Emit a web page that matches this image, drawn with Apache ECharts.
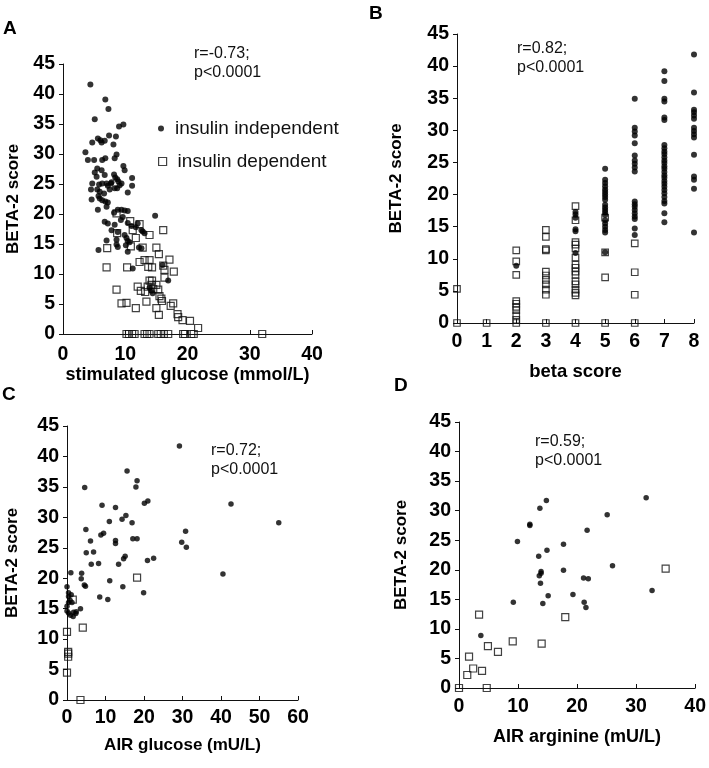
<!DOCTYPE html>
<html>
<head>
<meta charset="utf-8">
<script src="https://cdn.jsdelivr.net/npm/echarts@6/dist/echarts.min.js"></script>
<style>
  body { margin: 0; background: #fff; }
  #chart { width: 709px; height: 768px; }
</style>
</head>
<body>
<div id="chart"></div>
<script>
// ---- data ----
// A: stimulated glucose (mmol/L) vs BETA-2 score
const aIndependent = [
  [4.4,41.6],[6.8,39.1],[7.3,37.5],[5.1,35.8],[9.0,34.6],[9.7,34.9],[7.4,33.1],[8.5,32.9],
  [5.6,32.6],[6.0,32.3],[6.2,31.9],[6.7,32.2],[4.7,31.9],[8.1,31.6],[3.6,30.3],[4.0,29.0],
  [5.0,29.0],[6.3,29.0],[6.8,29.3],[8.3,29.3],[8.6,29.9],[5.5,27.6],[6.2,27.3],[9.7,28.0],
  [9.9,27.3],[5.1,26.9],[5.4,26.2],[6.7,26.5],[8.2,26.6],[8.4,26.1],[8.7,25.8],[8.9,25.4],
  [7.8,25.3],[11.1,26.0],[11.1,24.7],[4.7,25.1],[5.8,24.9],[6.3,25.1],[7.0,25.1],[7.2,24.7],
  [7.7,25.1],[8.7,24.3],[9.4,25.1],[10.4,23.6],[4.5,24.1],[5.5,24.1],[5.9,23.7],[6.6,23.4],
  [7.5,24.1],[8.3,24.3],[9.1,24.8],[4.6,22.4],[5.7,23.0],[5.9,22.6],[6.3,22.3],[6.8,22.1],
  [5.6,20.7],[7.0,21.2],[7.2,21.9],[8.8,20.7],[9.4,20.7],[9.9,20.6],[10.4,20.5],[8.2,20.2],
  [9.3,19.0],[9.6,19.5],[14.8,19.7],[6.7,18.7],[7.2,18.4],[8.3,18.2],[7.8,17.3],[10.4,18.5],
  [11.0,18.0],[11.7,17.8],[12.0,18.4],[12.6,17.3],[13.1,16.8],[12.8,17.1],[8.8,17.0],[9.9,16.5],
  [10.2,16.0],[10.4,15.5],[10.7,15.3],[10.1,14.8],[7.0,15.6],[8.6,15.7],[8.6,14.9],[8.8,14.5],
  [5.7,14.0],[10.4,13.7],[12.2,14.4],[12.6,14.3],[11.2,10.9],[16.0,11.5],[16.9,8.9],[13.9,7.7],
  [14.2,7.2],[14.4,6.8]
];
const aDependent = [
  [8.6,20.1],[10.8,18.8],[12.3,18.3],[11.2,17.3],[8.7,16.8],[16.1,17.3],[13.9,16.5],[11.7,16.0],
  [7.1,14.3],[10.9,14.6],[12.8,14.4],[15.0,14.4],[15.4,13.3],[7.0,11.1],[10.3,11.1],[12.3,12.0],
  [13.1,12.3],[13.9,12.3],[13.7,11.2],[14.3,11.1],[16.1,11.4],[17.1,12.4],[16.3,10.7],[17.8,10.4],
  [16.3,9.4],[13.9,8.9],[14.3,8.9],[15.0,8.2],[14.2,8.2],[12.0,7.9],[12.5,7.2],[13.2,7.0],
  [13.6,7.9],[14.5,7.5],[15.3,7.4],[15.5,6.3],[8.6,7.4],[9.4,5.1],[10.2,5.2],[11.7,4.3],
  [13.4,5.4],[15.0,4.3],[15.4,3.2],[15.8,5.9],[15.9,5.5],[17.3,4.7],[17.7,5.1],[18.4,3.3],
  [18.5,2.8],[19.2,2.3],[20.4,2.2],[21.7,1.0],
  [10.2,0],[10.6,0],[11.1,0],[11.5,0],[13.1,0],[13.5,0],[13.9,0],[15.3,0],[15.7,0],[16.2,0],
  [16.9,0],[19.3,0],[19.6,0],[20.6,0],[21.0,0],[32.0,0]
];

// B: beta score vs BETA-2 score
const bIndependent = [
  [2,8.9],
  [4,17.3],[4,16.9],[4,16.4],[4,14.6],[4,14.3],[4,10.9],
  [5,24.0],[5,22.3],[5,21.8],[5,21.3],[5,20.8],[5,20.4],[5,20.0],[5,19.6],[5,19.2],[5,18.4],
  [5,18.0],[5,17.6],[5,17.2],[5,16.8],[5,16.0],[5,15.5],[5,15.0],[5,14.5],[5,14.1],[5,11.0],
  [6,34.9],[6,30.4],[6,29.8],[6,29.2],[6,28.0],[6,26.1],[6,25.3],[6,24.8],[6,24.2],[6,23.6],
  [6,18.9],[6,18.5],[6,18.1],[6,17.6],[6,17.1],[6,16.6],[6,16.2],[6,14.7],[6,13.7],
  [7,39.2],[7,37.7],[7,34.9],[7,34.5],[7,32.0],[7,31.6],[7,27.7],[7,27.2],[7,26.7],[7,26.3],
  [7,25.8],[7,25.3],[7,24.9],[7,24.4],[7,24.0],[7,23.5],[7,23.0],[7,22.6],[7,22.1],[7,21.7],
  [7,21.2],[7,20.7],[7,20.2],[7,19.6],[7,19.0],[7,18.6],[7,17.1],[7,15.7],
  [8,41.8],[8,35.9],[8,33.2],[8,32.8],[8,32.3],[8,31.8],[8,30.4],[8,29.9],[8,29.4],[8,28.9],
  [8,26.2],[8,22.8],[8,22.3],[8,20.9],[8,14.1]
];
const bDependent = [
  [0,5.3],[0,0],[1,0],
  [2,11.3],[2,9.6],[2,7.5],[2,3.4],[2,3.0],[2,2.5],[2,2.0],[2,1.2],[2,0.5],[2,0],
  [3,14.5],[3,13.4],[3,11.5],[3,11.3],[3,8.0],[3,7.4],[3,6.7],[3,6.0],[3,5.2],[3,4.4],[3,0],
  [4,18.2],[4,16.0],[4,12.6],[4,12.2],[4,11.6],[4,10.2],[4,9.1],[4,8.6],[4,8.0],[4,7.5],
  [4,6.5],[4,6.0],[4,5.2],[4,4.7],[4,4.3],[4,0],
  [5,16.4],[5,11.0],[5,7.1],[5,0],
  [6,12.4],[6,7.9],[6,4.4],[6,0]
];

// C: AIR glucose (mU/L) vs BETA-2 score
const cIndependent = [
  [29.2,41.7],[15.6,37.6],[18.2,36.0],[17.9,35.0],[4.6,34.9],[42.6,32.2],[9.1,32.0],[12.6,31.6],
  [20.1,32.3],[21.0,32.7],[15.3,30.3],[14.3,29.7],[16.9,29.1],[11.0,29.3],[55.0,29.1],[4.9,28.0],
  [30.8,27.7],[9.5,27.4],[8.8,27.1],[17.1,26.5],[18.2,26.5],[6.1,26.1],[12.6,26.2],[12.6,25.7],
  [29.8,25.9],[31.0,25.1],[5.0,24.2],[6.9,24.3],[15.1,23.6],[14.7,23.2],[22.5,23.3],[20.9,22.9],
  [6.3,22.3],[8.2,22.4],[13.4,22.3],[3.8,20.8],[3.7,19.9],[1.0,20.9],[40.5,20.7],[11.1,19.6],
  [4.5,18.9],[4.8,18.7],[0,18.6],[14.5,18.6],[19.9,17.6],[8.5,16.9],[10.6,16.5],
  [0.4,17.6],[0.4,17.0],[0.8,16.4],[0.4,16.0],[1.3,16.0],[1.1,17.3],
  [0,15.4],[0,14.6],[0.4,14.3],[0.9,13.9],[1.7,14.4],[2.3,14.2],[3.5,15.0],[1.6,13.7],[2.4,14.5]
];
const cDependent = [
  [18.2,20.1],[1.5,16.5],[4.1,11.9],[0,11.2],[0.3,7.9],[0.3,7.6],[0.3,7.1],[0,4.5],[3.5,0]
];

// D: AIR arginine (mU/L) vs BETA-2 score
const dIndependent = [
  [31.7,32.2],[14.8,31.7],[13.7,30.4],[25.1,29.3],[12.0,27.7],[12.0,27.5],[21.7,26.7],[9.9,24.8],
  [17.7,24.3],[14.9,23.3],[13.5,22.3],[26.0,20.7],[13.9,19.7],[13.6,19.0],[13.9,19.4],[17.7,19.9],
  [21.1,18.6],[21.9,18.5],[13.8,17.7],[32.7,16.5],[19.3,15.8],[15.1,15.6],[9.2,14.5],[14.2,14.3],
  [21.2,14.5],[21.5,13.6],[3.7,8.9]
];
const dDependent = [
  [35.0,20.2],[18.0,12.0],[3.4,12.4],[9.1,7.9],[14.0,7.5],[4.9,7.1],[6.6,6.1],[1.7,5.3],
  [2.4,3.3],[3.9,2.9],[1.4,2.2],[0,0],[4.7,0]
];

const yTicks = { min: 0, max: 45, interval: 5 };
const xRanges = [
  { min: 0, max: 40, interval: 10 },
  { min: 0, max: 8, interval: 1 },
  { min: 0, max: 60, interval: 10 },
  { min: 0, max: 40, interval: 10 }
];
const xNames = ['stimulated glucose (mmol/L)', 'beta score', 'AIR glucose (mU/L)', 'AIR arginine (mU/L)'];
const notes = ['r=-0.73;\np<0.0001', 'r=0.82;\np<0.0001', 'r=0.72;\np<0.0001', 'r=0.59;\np<0.0001'];

const FONT = "'Liberation Sans', Arial, sans-serif";
const chart = echarts.init(document.getElementById('chart'));

// 每个面板的坐标区域
const grids = [
  { left: 63, top: 64, width: 249, height: 270 },
  { left: 457, top: 34, width: 237, height: 289 },
  { left: 67, top: 426, width: 231, height: 274 },
  { left: 459, top: 422, width: 239, height: 266 }
];
const xNameGap = [30, 39, 37, 40];
const xNameSize = [18, 18.5, 17, 18];
const xLabelMargin = [11, 9, 8, 9];
const yNameGap = [41, 52, 46, 49];

const xAxis = grids.map((g, i) => ({
  gridIndex: i,
  type: 'value',
  min: xRanges[i].min,
  max: xRanges[i].max,
  interval: xRanges[i].interval,
  name: xNames[i],
  nameLocation: 'middle',
  nameGap: xNameGap[i],
  nameTextStyle: { fontFamily: FONT, fontWeight: 'bold', fontSize: xNameSize[i], color: '#000' },
  axisLine: { show: true, onZero: false, lineStyle: { color: '#111', width: 1 } },
  axisTick: { show: true, inside: true, length: 4, lineStyle: { color: '#111' } },
  axisLabel: { fontFamily: FONT, fontWeight: 'bold', fontSize: 19.5, color: '#000', margin: xLabelMargin[i] },
  splitLine: { show: false }
}));

const yAxis = grids.map((g, i) => ({
  gridIndex: i,
  type: 'value',
  min: yTicks.min,
  max: yTicks.max,
  interval: yTicks.interval,
  name: 'BETA-2 score',
  nameLocation: 'middle',
  nameGap: yNameGap[i],
  nameTextStyle: { fontFamily: FONT, fontWeight: 'bold', fontSize: 17, color: '#000' },
  axisLine: { show: true, onZero: false, lineStyle: { color: '#111', width: 1 } },
  axisTick: { show: true, length: 4, lineStyle: { color: '#111' } },
  axisLabel: { fontFamily: FONT, fontWeight: 'bold', fontSize: 19.5, color: '#000', margin: 8 },
  splitLine: { show: false }
}));

const groups = [
  [aIndependent, aDependent],
  [bIndependent, bDependent],
  [cIndependent, cDependent],
  [dIndependent, dDependent]
];
const squareSize = [7, 6.5, 7, 7];
const dotSize = [6, 6, 5.5, 5.5];

const series = [];
groups.forEach((pair, i) => {
  series.push({
    name: 'insulin dependent',
    type: 'scatter',
    xAxisIndex: i, yAxisIndex: i,
    symbol: 'rect',
    symbolSize: squareSize[i],
    itemStyle: { color: 'rgba(0,0,0,0)', borderColor: '#111', borderWidth: 1.2 },
    emphasis: { disabled: true },
    data: pair[1]
  });
  series.push({
    name: 'insulin independent',
    type: 'scatter',
    xAxisIndex: i, yAxisIndex: i,
    symbol: 'circle',
    symbolSize: dotSize[i],
    itemStyle: { color: '#000' },
    emphasis: { disabled: true },
    data: pair[0]
  });
});

// 面板字母和相关系数文字
const letters = [
  { t: 'A', left: 3, top: 19 },
  { t: 'B', left: 369, top: 4 },
  { t: 'C', left: 2, top: 385 },
  { t: 'D', left: 394, top: 376 }
];
const notePos = [
  { left: 194, top: 44 },
  { left: 517, top: 39 },
  { left: 211, top: 441 },
  { left: 535, top: 432 }
];
const graphic = [];
letters.forEach(l => {
  graphic.push({
    type: 'text', left: l.left, top: l.top,
    style: { text: l.t, font: 'bold 19px ' + FONT, fill: '#000' }
  });
});
notes.forEach((n, i) => {
  graphic.push({
    type: 'text', left: notePos[i].left, top: notePos[i].top,
    style: { text: n, font: '16px ' + FONT, fill: '#111', lineHeight: 19 }
  });
});

const option = {
  animation: false,
  backgroundColor: '#fff',
  grid: grids.map(g => Object.assign({ containLabel: false }, g)),
  xAxis: xAxis,
  yAxis: yAxis,
  legend: [
    {
      left: 158, top: 119, padding: 0,
      data: [{ name: 'insulin independent', icon: 'circle' }],
      itemWidth: 18, itemHeight: 6,
      selectedMode: false,
      textStyle: { fontFamily: FONT, fontSize: 19, color: '#111' }
    },
    {
      left: 158, top: 152, padding: 0,
      data: [{ name: 'insulin dependent', icon: 'path://M0,0H10V10H0Z' }],
      itemWidth: 20, itemHeight: 8,
      selectedMode: false,
      itemStyle: { color: 'rgba(0,0,0,0)', borderColor: '#111', borderWidth: 1.2 },
      textStyle: { fontFamily: FONT, fontSize: 19, color: '#111' }
    }
  ],
  graphic: graphic,
  series: series
};
chart.setOption(option);
</script>
</body>
</html>
